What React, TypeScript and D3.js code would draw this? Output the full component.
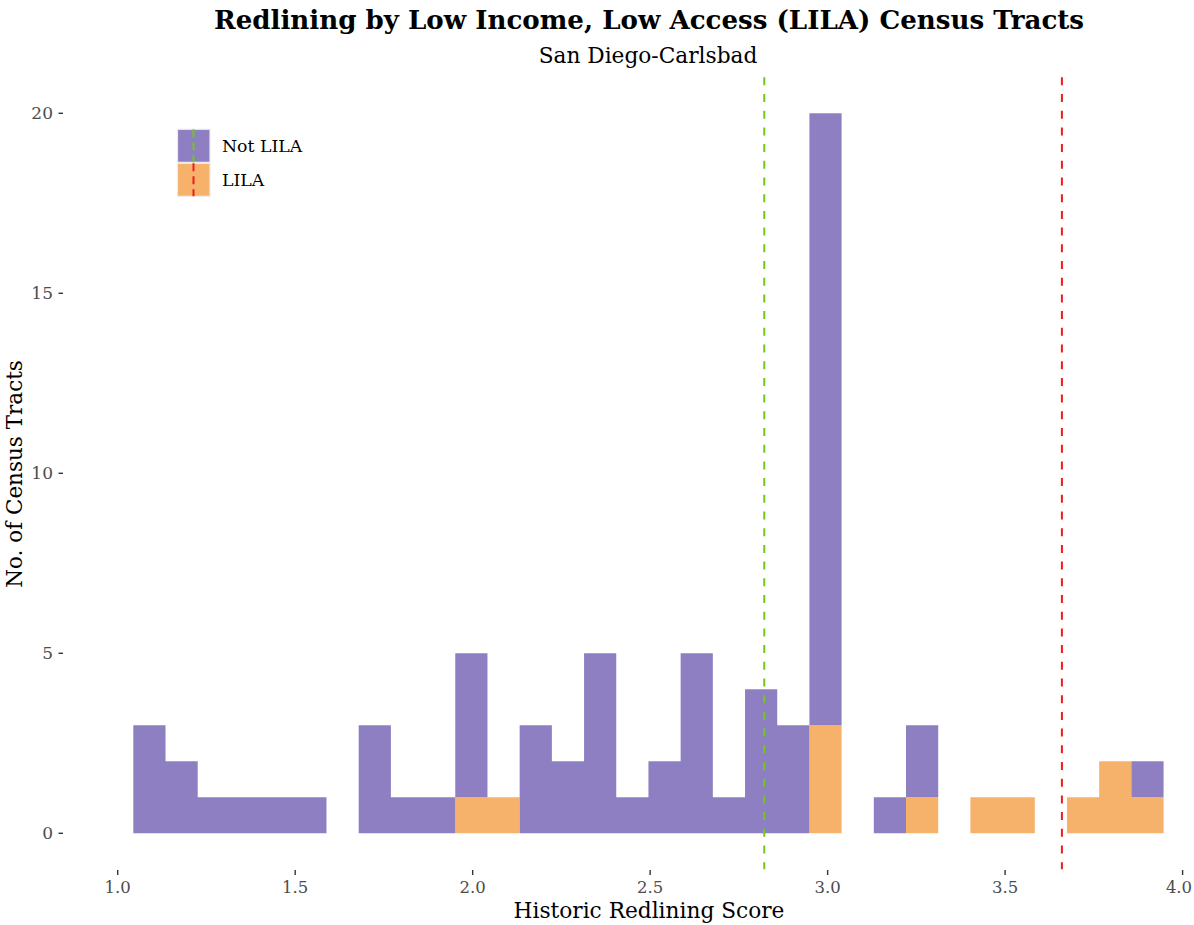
import React from "react";
import * as d3 from "d3";

// ---- data ----
const binStart = 1.044;
const binWidth = 0.0907;
const notLilaCounts = [3, 2, 1, 1, 1, 1, 0, 3, 1, 1, 4, 0, 3, 2, 5, 1, 2, 5, 1, 4, 3, 17, 0, 1, 2, 0, 0, 0, 0, 0, 0, 1];
const lilaCounts = [0, 0, 0, 0, 0, 0, 0, 0, 0, 0, 1, 1, 0, 0, 0, 0, 0, 0, 0, 0, 0, 3, 0, 0, 1, 0, 1, 1, 0, 1, 2, 1];
const xTicks = [1.0, 1.5, 2.0, 2.5, 3.0, 3.5, 4.0];
const yTicks = [0, 5, 10, 15, 20];
const meanNotLila = 2.8215;
const meanLila = 3.66;
const seriesNames = ["Not LILA", "LILA"];

const W = 1194;
const H = 925;
const PURPLE = "#8e7fc3";
const ORANGE = "#f6b16b";
const GREEN = "#72c81a";
const RED = "#f01c1c";
const FONT = "'DejaVu Serif', serif";

type StepPt = { x: number; lo: number; hi: number };

export default function App() {
  const x = d3.scaleLinear().domain([1, 4]).range([117.7, 1182.6]);
  const y = d3.scaleLinear().domain([0, 20]).range([833.3, 113.3]);
  const panelTop = y(21);
  const panelBottom = y(-1);

  const orangePts: StepPt[] = [];
  const purplePts: StepPt[] = [];
  notLilaCounts.forEach((n, i) => {
    const x0 = binStart + i * binWidth;
    const x1 = binStart + (i + 1) * binWidth;
    const l = lilaCounts[i];
    orangePts.push({ x: x0, lo: 0, hi: l }, { x: x1, lo: 0, hi: l });
    purplePts.push({ x: x0, lo: l, hi: l + n }, { x: x1, lo: l, hi: l + n });
  });

  const area = d3
    .area<StepPt>()
    .x((d) => x(d.x))
    .y0((d) => y(d.lo))
    .y1((d) => y(d.hi));

  return (
    <svg width={W} height={H} style={{ position: "absolute", left: 0, top: 0, background: "#fff" }}>
      {/* stacked histogram */}
      <path d={area(orangePts) || ""} fill={ORANGE} />
      <path d={area(purplePts) || ""} fill={PURPLE} />

      {/* mean lines */}
      <line x1={x(meanNotLila)} x2={x(meanNotLila)} y1={panelTop} y2={panelBottom} stroke={GREEN} strokeWidth={2} strokeDasharray="8,8.7" />
      <line x1={x(meanLila)} x2={x(meanLila)} y1={panelTop} y2={panelBottom} stroke={RED} strokeWidth={2} strokeDasharray="8,8.7" />

      {/* y axis */}
      {yTicks.map((t) => (
        <g key={t}>
          <line x1={58.5} x2={63} y1={y(t)} y2={y(t)} stroke="#333" strokeWidth={1.4} />
          <text x={53} y={y(t) + 6} textAnchor="end" fontFamily={FONT} fontSize={17} fill="#4d4d4d">
            {t}
          </text>
        </g>
      ))}
      {/* x axis */}
      {xTicks.map((t) => (
        <g key={t}>
          <line x1={x(t)} x2={x(t)} y1={870} y2={875} stroke="#333" strokeWidth={1.4} />
          <text
            x={Math.min(x(t), 1179)}
            y={893}
            textAnchor="middle"
            fontFamily={FONT}
            fontSize={16.5}
            fill="#4d4d4d"
          >
            {d3.format(".1f")(t)}
          </text>
        </g>
      ))}

      {/* axis titles */}
      <text x={649} y={918} textAnchor="middle" fontFamily={FONT} fontSize={21.7} fill="#000">
        Historic Redlining Score
      </text>
      <text
        transform={`translate(22,474) rotate(-90)`}
        textAnchor="middle"
        fontFamily={FONT}
        fontSize={21.5}
        fill="#000"
      >
        No. of Census Tracts
      </text>

      {/* titles */}
      <text x={649} y={29} textAnchor="middle" fontFamily={FONT} fontWeight="bold" fontSize={26.1} fill="#000">
        Redlining by Low Income, Low Access (LILA) Census Tracts
      </text>
      <text x={648} y={63} textAnchor="middle" fontFamily={FONT} fontSize={21.7} fill="#000">
        San Diego-Carlsbad
      </text>

      {/* legend */}
      {seriesNames.map((name, i) => {
        const top = 129.3 + i * 34;
        return (
          <g key={name}>
            <rect x={177.5} y={top} width={32.5} height={33} fill={i === 0 ? PURPLE : ORANGE} stroke="#ebebeb" strokeWidth={1.2} />
            <line
              x1={193.5}
              x2={193.5}
              y1={top}
              y2={top + 33}
              stroke={i === 0 ? GREEN : RED}
              strokeWidth={2}
              strokeDasharray="8,5"
            />
            <text x={222} y={top + 22.5} fontFamily={FONT} fontSize={17.3} fill="#000">
              {name}
            </text>
          </g>
        );
      })}
    </svg>
  );
}
